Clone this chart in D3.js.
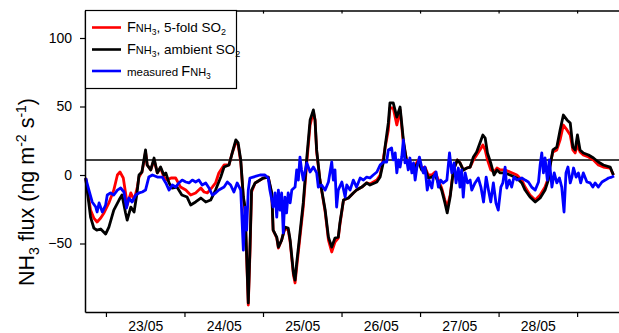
<!DOCTYPE html>
<html>
<head>
<meta charset="utf-8">
<script src="https://cdn.jsdelivr.net/npm/d3@7/dist/d3.min.js"></script>
<style>
  body { margin: 0; background: #fff; }
  svg { display: block; font-family: Arial, "Liberation Sans", sans-serif; }
</style>
</head>
<body>
<svg id="chart" width="619" height="333"></svg>
<script>
// Time: hours since 22/05 00:00.  Flux: ng m-2 s-1.

// Modelled NH3 flux with 5-fold SO2
const flux5foldSO2 = [
  [17.8,-2.2],[19.3,-25.6],[20.3,-31.4],[21.3,-34.3],[22.4,-31.4],[23.4,-27.7],[24.9,-20.4],[26.4,-11.0],
  [27.5,0],[28.3,2.2],[29.3,-2.2],[30.0,-13.1],[30.5,-21.9],[31.6,-13.1],[32.6,-18.3],[33.6,-8.8],
  [34.1,-1.5],[35.0,2.2],[35.6,9.5],[36.1,16.8],[36.6,7.3],[37.7,3.7],[38.7,11.0],[39.7,1.5],
  [40.7,5.1],[41.7,-1.5],[42.7,-3.7],[43.9,-2.2],[45.3,-2.2],[46.8,-8.8],[48.4,-11.0],[49.9,-14.6],
  [51.4,-13.1],[53.0,-9.5],[54.0,-12.4],[55.0,-13.1],[56.5,-8.8],[57.5,-5.8],[58.5,1.5],[60.1,7.3],
  [61.6,7.3],[62.6,16.1],[63.7,24.1],[64.4,21.9],[65.2,9.5],[66.0,-16.8],[66.5,-25.6],[67.5,-94.9],
  [68.0,-58.4],[68.5,-12.4],[69.6,-5.8],[72.1,-2.2],[73.6,-1.5],[74.7,-14.6],[75.1,-40.2],[76.2,-46.0],
  [76.7,-53.3],[77.7,-47.5],[78.7,-38.7],[79.7,-40.2],[80.3,-48.9],[81.3,-73.0],[81.8,-78.8],[82.3,-67.2],
  [83.3,-45.3],[84.3,-23.4],[85.4,9.5],[86.4,36.5],[87.4,46.0],[87.9,40.2],[88.4,16.8],[89.4,-3.7],
  [91.0,-27.0],[92.0,-47.5],[93.0,-56.2],[94.0,-48.9],[95.0,-46.0],[95.5,-36.5],[96.6,-18.3],[98.1,-16.8],
  [99.6,-13.1],[100.6,-11.0],[102.2,-8.8],[103.7,-5.8],[104.7,-6.6],[106.8,-3.7],[107.8,0],[108.8,12.4],
  [109.3,19.7],[110.3,32.9],[110.8,48.9],[111.8,48.9],[112.9,36.5],[113.9,47.5],[114.9,23.4],[115.9,11.0],
  [116.9,5.8],[118.5,7.3],[119.5,11.0],[120.5,5.1],[121.5,5.8],[122.5,0],[123.6,0],[124.6,2.2],
  [125.6,-3.7],[126.6,-9.5],[127.6,-18.3],[128.3,-23.4],[129.2,-14.6],[130.2,3.7],[131.4,11.0],[132.2,8.8],
  [133.2,3.7],[134.3,5.1],[135.3,5.8],[136.3,11.0],[137.3,14.6],[138.3,18.3],[139.2,21.9],[139.9,18.3],
  [140.6,11.0],[141.6,3.7],[142.6,2.2],[143.5,5.1],[144.5,3.7],[146.0,3.7],[147.5,2.2],[149.6,0],
  [151.1,-3.7],[152.1,-8.8],[153.6,-14.6],[155.2,-18.3],[156.7,-14.6],[158.2,-8.8],[159.2,-2.2],[159.7,7.3],
  [160.6,16.8],[161.8,18.3],[162.8,25.6],[163.8,36.5],[164.9,32.9],[165.9,29.2],[166.7,18.3],[167.4,16.1],
  [168.1,21.9],[168.9,16.8],[169.9,14.6],[171.5,13.1],[173.0,11.0],[174.5,7.3],[176.0,5.8],[178.1,5.1],
  [179.1,0]
];

// Modelled NH3 flux with ambient SO2
const fluxAmbientSO2 = [
  [17.8,-2.2],[19.3,-30.7],[20.3,-38.7],[21.2,-40.2],[22.4,-39.4],[23.9,-43.1],[24.9,-38.0],[26.4,-25.6],
  [28.0,-18.3],[28.9,-14.6],[30.0,-27.7],[30.5,-32.9],[31.6,-23.4],[32.6,-27.0],[33.5,-13.1],[34.1,0],
  [35.0,2.2],[35.6,11.0],[36.1,18.3],[36.6,7.3],[37.7,3.7],[38.7,12.4],[39.7,1.5],[40.7,5.8],
  [41.7,0],[42.3,1.5],[43.3,-5.8],[44.2,-9.5],[45.7,-8.8],[47.2,-14.6],[48.8,-16.1],[49.9,-21.9],
  [51.4,-19.7],[53.0,-16.8],[54.5,-19.7],[56.0,-18.3],[57.5,-11.0],[59.1,-1.5],[60.1,5.8],[61.6,7.3],
  [62.6,16.1],[63.7,25.6],[64.4,23.4],[65.2,11.0],[66.0,-16.1],[66.5,-23.4],[67.5,-93.4],[68.0,-54.8],
  [68.5,-11.0],[69.6,-5.8],[72.1,-2.2],[73.6,-1.5],[74.7,-13.1],[75.1,-40.2],[76.2,-45.3],[76.7,-52.6],
  [77.7,-47.5],[78.7,-38.0],[79.7,-38.7],[80.3,-47.5],[81.3,-71.5],[81.8,-76.7],[82.3,-64.2],[83.3,-42.3],
  [84.3,-20.4],[85.4,13.1],[86.4,40.2],[87.4,47.5],[87.9,40.2],[88.4,18.3],[89.4,-3.7],[91.0,-25.6],
  [92.0,-45.3],[93.0,-52.6],[94.0,-46.0],[95.0,-45.3],[95.5,-35.0],[96.6,-18.3],[98.1,-16.8],[99.6,-13.1],
  [100.6,-11.0],[102.2,-8.8],[103.7,-5.8],[104.7,-7.3],[106.8,-5.1],[107.8,-1.5],[108.8,9.5],[109.3,20.4],
  [110.3,38.0],[110.8,52.6],[111.8,52.6],[112.9,42.3],[113.9,49.6],[114.9,25.6],[115.9,9.5],[116.9,5.1],
  [118.5,5.8],[119.5,9.5],[120.5,3.7],[121.5,5.1],[122.5,-2.2],[123.6,-1.5],[124.6,0],[125.6,-5.8],
  [126.6,-11.0],[127.6,-20.4],[128.3,-27.7],[129.2,-16.1],[130.2,3.7],[131.4,11.0],[132.2,8.8],[133.2,3.7],
  [134.3,5.1],[135.3,5.8],[136.3,13.1],[137.3,16.8],[138.3,23.4],[139.2,29.2],[139.9,27.0],[140.6,16.1],
  [141.6,8.8],[142.6,0],[143.5,3.7],[144.5,1.5],[146.0,1.5],[147.5,0],[149.6,-2.2],[151.1,-5.8],
  [152.1,-11.0],[153.6,-16.1],[155.2,-19.7],[156.7,-16.8],[158.2,-11.0],[159.2,-3.7],[159.7,5.8],[160.6,18.3],
  [161.8,20.4],[162.8,32.9],[163.8,43.8],[164.9,40.2],[165.9,38.0],[166.7,20.4],[167.4,18.3],[168.1,29.2],
  [168.9,18.3],[169.9,16.1],[171.5,14.6],[173.0,12.4],[174.5,9.5],[176.0,7.3],[178.1,5.8],[179.1,0]
];

// Measured NH3 flux
const fluxMeasured = [
  [17.8,-2.2],[18.8,-11.0],[19.8,-19.7],[20.9,-23.4],[21.3,-27.0],[21.9,-20.4],[22.9,-27.0],[23.9,-21.9],
  [24.4,-14.6],[25.4,-13.1],[26.4,-14.6],[27.5,-11.0],[28.5,-9.5],[29.5,-12.4],[30.3,-24.1],[31.0,-16.8],
  [32.0,-19.7],[33.1,-14.6],[34.1,-13.1],[35.1,-12.4],[36.1,-11.0],[37.1,-1.5],[38.2,0],[39.7,-1.5],
  [41.2,-1.5],[42.3,-5.8],[43.3,-11.0],[44.3,-7.3],[45.3,-8.8],[46.3,-5.8],[47.3,-3.7],[48.4,-5.1],
  [49.4,-5.8],[50.4,-3.7],[51.4,-5.1],[52.4,-3.7],[53.4,-7.3],[54.5,-5.8],[55.5,-9.5],[56.5,-14.6],
  [57.5,-13.1],[58.5,-11.0],[60.1,-8.8],[61.1,-5.1],[62.1,-7.3],[63.1,-12.4],[64.1,-5.8],[65.2,-11.0],
  [66.0,-54.8],[66.5,-23.4],[67.0,-40.2],[67.5,-11.0],[68.0,-2.2],[69.0,-1.5],[71.1,0],[72.6,0],
  [73.6,-2.2],[74.1,-11.0],[74.7,-18.3],[75.1,-23.4],[75.7,-13.1],[76.2,-30.7],[76.7,-11.0],[77.2,-25.6],
  [77.7,-13.1],[78.2,-42.3],[78.7,-16.1],[79.2,-27.7],[79.7,-13.1],[80.3,-20.4],[80.8,-11.0],[81.8,-8.8],
  [82.3,3.7],[82.8,-3.7],[83.3,13.1],[83.8,3.7],[84.3,-3.7],[85.4,8.8],[86.4,2.2],[87.4,5.8],
  [88.4,1.5],[88.9,-8.8],[89.9,-7.3],[91.0,-11.0],[92.0,-5.1],[93.0,9.5],[93.5,-3.7],[94.0,3.7],
  [94.5,-23.4],[95.0,-11.0],[96.1,-5.1],[97.1,-16.1],[97.6,-7.3],[98.6,-11.0],[99.6,-3.7],[100.6,-8.8],
  [101.7,-2.2],[102.7,-3.7],[103.7,-1.5],[104.7,-2.2],[105.7,0],[106.8,2.2],[107.8,7.3],[108.8,9.5],
  [109.8,9.5],[110.3,18.3],[111.3,19.7],[111.8,11.0],[112.4,16.1],[112.9,1.5],[113.4,11.0],[113.9,5.8],
  [114.4,13.1],[114.9,25.6],[115.4,8.8],[115.9,11.0],[116.4,3.7],[116.9,12.4],[117.5,1.5],[118.0,8.8],
  [118.5,-3.7],[119.0,5.1],[119.8,13.1],[120.5,5.8],[121.0,1.5],[121.5,5.8],[122.2,-11.0],[122.8,-3.7],
  [123.6,-9.5],[124.1,-1.5],[124.9,2.2],[125.6,-8.8],[126.3,-3.7],[127.1,-5.8],[128.2,-3.7],[129.0,16.1],
  [129.7,1.5],[130.4,8.8],[131.0,-5.8],[131.7,5.1],[132.2,-8.8],[132.7,3.7],[133.2,-16.1],[133.8,1.5],
  [134.5,-5.8],[135.3,-3.7],[135.8,-11.0],[136.8,-5.8],[137.8,-2.2],[138.6,-8.8],[139.4,-19.7],[140.2,-1.5],
  [140.9,-11.0],[141.6,-19.7],[142.4,-5.8],[143.2,-20.4],[143.9,-25.6],[144.7,-8.8],[145.3,-5.8],[146.0,5.8],
  [146.5,-9.5],[147.3,-3.7],[148.0,-8.8],[148.7,-1.5],[149.6,-3.7],[151.1,-2.2],[152.1,-3.7],[153.1,-5.1],
  [154.1,-8.8],[155.2,-11.0],[156.2,-5.1],[156.7,7.3],[157.2,16.1],[157.7,1.5],[158.2,12.4],[158.9,-3.7],
  [159.5,11.0],[160.3,-8.8],[161.0,1.5],[161.8,-5.8],[162.6,-2.2],[163.3,-8.8],[164.0,-27.0],[164.6,1.5],
  [165.2,5.8],[165.9,-5.8],[166.4,-1.5],[166.9,5.1],[167.7,-1.5],[168.4,1.5],[169.1,-5.8],[169.9,1.5],
  [171.0,-5.1],[172.0,-5.8],[172.8,-8.8],[173.5,-5.8],[174.5,-8.8],[175.6,-5.1],[176.6,-3.7],[177.6,-2.2],
  [178.6,-1.5],[179.3,-0.7]
];

// Horizontal reference level (ng m-2 s-1)
const referenceLevel = 11;

// Day boundaries (hours) and day labels centred at noon
const dayBoundaries = [24, 48, 72, 96, 120, 144, 168];
const dayCentres = [36, 60, 84, 108, 132, 156];
const dayLabels = ["23/05", "24/05", "25/05", "26/05", "27/05", "28/05"];
const yTicks = [-50, 0, 50, 100];

const svg = d3.select("#chart");
const plotLeft = 85, plotRight = 619, plotTop = 10.6, plotBottom = 312;

const x = d3.scaleLinear().domain([17.6, 180.8]).range([plotLeft, plotRight]);
const y = d3.scaleLinear().domain([-100, 120]).range([plotBottom, plotTop]);

// legend label pieces: [text, font size, baseline drop]
const series = [
  { data: flux5foldSO2, color: "#ff0000",
    label: [["F", 14.5, 0], ["NH", 11, 0], ["3", 8.5, 3], [", 5-fold SO", 13.5, 0], ["2", 9, 3]] },
  { data: fluxAmbientSO2, color: "#000000",
    label: [["F", 14.5, 0], ["NH", 11, 0], ["3", 8.5, 3], [", ambient SO", 13.5, 0], ["2", 9, 3]] },
  { data: fluxMeasured, color: "#0000ff",
    label: [["measured ", 11.5, 0], ["F", 14.5, 0], ["NH", 11, 0], ["3", 8.5, 3]] }
];

// reference level line
svg.append("line")
  .attr("x1", x.range()[0]).attr("x2", x.range()[1])
  .attr("y1", y(referenceLevel)).attr("y2", y(referenceLevel))
  .attr("stroke", "#000").attr("stroke-width", 1.6);

const line = d3.line().x(d => x(d[0])).y(d => y(d[1]));

// series, drawn in legend order so the measured flux sits on top
svg.append("g").selectAll("path")
  .data(series)
  .join("path")
  .attr("d", d => line(d.data))
  .attr("fill", "none")
  .attr("stroke", d => d.color)
  .attr("stroke-width", 2.8)
  .attr("stroke-linejoin", "round");

// bottom axis: day-boundary ticks
svg.append("g")
  .attr("transform", `translate(0,${plotBottom})`)
  .call(d3.axisBottom(x).tickValues(dayBoundaries).tickFormat("").tickSizeInner(5).tickSizeOuter(0));
// day labels at noon
const xLabels = svg.append("g")
  .attr("transform", `translate(0,${plotBottom})`)
  .call(d3.axisBottom(x).tickValues(dayCentres).tickFormat((d, i) => dayLabels[i]).tickSize(0).tickPadding(9));
xLabels.select(".domain").remove();
xLabels.selectAll("text").attr("font-size", 14).attr("font-family", "Arial, 'Liberation Sans', sans-serif").attr("fill", "#000");

// top frame with inward ticks
svg.append("g")
  .attr("transform", `translate(0,${plotTop})`)
  .call(d3.axisBottom(x).tickValues(dayBoundaries).tickFormat("").tickSizeInner(3).tickSizeOuter(0));

// left axis
const yAxis = svg.append("g")
  .attr("transform", `translate(${plotLeft},0)`)
  .call(d3.axisLeft(y).tickValues(yTicks).tickSizeInner(5).tickSizeOuter(0).tickPadding(8));
yAxis.selectAll("text").attr("font-size", 14).attr("font-family", "Arial, 'Liberation Sans', sans-serif").attr("fill", "#000");

svg.selectAll(".domain").attr("stroke", "#000").attr("stroke-width", 1.5);
svg.selectAll(".tick line").attr("stroke", "#000").attr("stroke-width", 1.2);

// y-axis title
const title = svg.append("text")
  .attr("transform", "translate(34,192) rotate(-90)")
  .attr("text-anchor", "middle")
  .attr("font-size", 21.5)
  .attr("fill", "#000");
title.append("tspan").text("NH");
title.append("tspan").attr("font-size", 14).attr("dy", 5).text("3");
title.append("tspan").attr("dy", -5).text(" flux (ng m");
title.append("tspan").attr("font-size", 14).attr("dy", -8).text("-2");
title.append("tspan").attr("dy", 8).text(" s");
title.append("tspan").attr("font-size", 14).attr("dy", -8).text("-1");
title.append("tspan").attr("dy", 8).text(")");

// legend
const legend = svg.append("g");
legend.append("rect")
  .attr("x", 85.5).attr("y", 10.5).attr("width", 151).attr("height", 78)
  .attr("fill", "#fff").attr("stroke", "#000").attr("stroke-width", 1.2);
const rowY = [27.5, 49.5, 71];
series.forEach((s, i) => {
  legend.append("line")
    .attr("x1", 92).attr("x2", 121)
    .attr("y1", rowY[i]).attr("y2", rowY[i])
    .attr("stroke", s.color).attr("stroke-width", 2.6);
  const t = legend.append("text").attr("x", 127).attr("y", rowY[i] + 4.5).attr("fill", "#000");
  let shift = 0;
  s.label.forEach(([txt, size, down]) => {
    t.append("tspan").attr("font-size", size).attr("dy", down - shift).text(txt);
    shift = down;
  });
});
</script>
</body>
</html>
